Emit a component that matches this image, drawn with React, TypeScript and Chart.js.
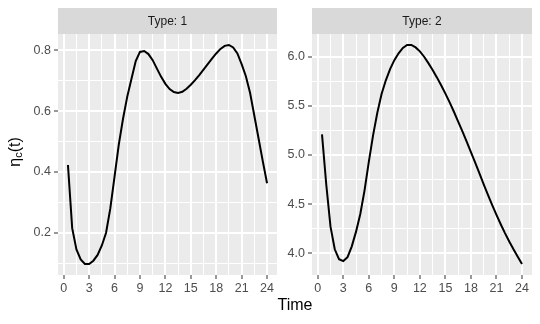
import React, { useEffect, useRef } from "react";
import { Chart, registerables } from "chart.js";
Chart.register(...registerables);

const times = [0.5, 1, 1.5, 2, 2.5, 3, 3.5, 4, 4.5, 5, 5.5, 6, 6.5, 7, 7.5, 8, 8.5, 9, 9.5, 10, 10.5, 11, 11.5, 12, 12.5, 13, 13.5, 14, 14.5, 15, 15.5, 16, 16.5, 17, 17.5, 18, 18.5, 19, 19.5, 20, 20.5, 21, 21.5, 22, 22.5, 23, 23.5, 24];
const type1Values = [0.423, 0.215, 0.145, 0.112, 0.097, 0.097, 0.108, 0.127, 0.158, 0.2, 0.28, 0.385, 0.49, 0.575, 0.648, 0.707, 0.765, 0.795, 0.798, 0.788, 0.768, 0.74, 0.713, 0.69, 0.673, 0.663, 0.66, 0.664, 0.674, 0.687, 0.702, 0.719, 0.737, 0.755, 0.773, 0.79, 0.805, 0.815, 0.818, 0.81, 0.79, 0.755, 0.715, 0.66, 0.585, 0.51, 0.435, 0.363];
const type2Values = [5.21, 4.7, 4.27, 4.04, 3.94, 3.92, 3.96, 4.07, 4.22, 4.4, 4.64, 4.93, 5.2, 5.43, 5.62, 5.76, 5.875, 5.965, 6.035, 6.09, 6.12, 6.12, 6.095, 6.055, 6.0, 5.935, 5.865, 5.79, 5.71, 5.625, 5.535, 5.44, 5.34, 5.24, 5.135, 5.03, 4.922, 4.812, 4.702, 4.594, 4.49, 4.39, 4.295, 4.205, 4.12, 4.04, 3.965, 3.89];
const panelTitles = ["Type: 1", "Type: 2"];
const xMajorTicks = [0, 3, 6, 9, 12, 15, 18, 21, 24];
const y1MajorTicks = [0.2, 0.4, 0.6, 0.8];
const y2MajorTicks = [4.0, 4.5, 5.0, 5.5, 6.0];
const xTitle = "Time";

const FONT = "'Liberation Sans', Arial, Helvetica, sans-serif";

function withMinors(majors: number[], lo: number, hi: number) {
  const step = majors[1] - majors[0];
  const ext = [majors[0] - step, ...majors, majors[majors.length - 1] + step];
  const out: number[] = [];
  for (let i = 0; i < ext.length; i++) {
    if (ext[i] >= lo && ext[i] <= hi) out.push(ext[i]);
    if (i < ext.length - 1) {
      const m = (ext[i] + ext[i + 1]) / 2;
      if (m >= lo && m <= hi) out.push(m);
    }
  }
  return out;
}

function range(vals: number[]) {
  const mn = Math.min(...vals), mx = Math.max(...vals);
  const pad = (mx - mn) * 0.05;
  return [mn - pad, mx + pad];
}

const isIn = (v: number, arr: number[]) => arr.some((a) => Math.abs(a - v) < 1e-9);

function makePanel(
  canvas: HTMLCanvasElement,
  values: number[],
  yMajors: number[],
  title: string,
  box: { left: number; right: number; top: number; bottom: number },
  drawTitles: boolean
) {
  const [xMin, xMax] = range(times);
  const [yMin, yMax] = range(values);
  const xAll = withMinors(xMajorTicks, xMin, xMax);
  const yAll = withMinors(yMajors, yMin, yMax);
  const W = 540, H = 324;

  const panelPlugin = {
    id: "panel" + title,
    beforeDraw(chart: any) {
      const { ctx, chartArea: a } = chart;
      ctx.save();
      ctx.fillStyle = "#EBEBEB";
      ctx.fillRect(a.left, a.top, a.right - a.left, a.bottom - a.top);
      ctx.fillStyle = "#D9D9D9";
      ctx.fillRect(a.left, 8, a.right - a.left, a.top - 8);
      ctx.fillStyle = "#1A1A1A";
      ctx.font = `12px ${FONT}`;
      ctx.textAlign = "center";
      ctx.textBaseline = "middle";
      ctx.fillText(title, (a.left + a.right) / 2, (8 + a.top) / 2 + 1);
      ctx.restore();
    },
    afterDraw(chart: any) {
      if (!drawTitles) return;
      const ctx = chart.ctx;
      ctx.save();
      ctx.fillStyle = "#000000";
      ctx.font = `16px ${FONT}`;
      ctx.textAlign = "center";
      ctx.textBaseline = "middle";
      ctx.fillText(xTitle, 295, 306);
      // y title: eta_c(t)
      ctx.translate(14, 152);
      ctx.rotate(-Math.PI / 2);
      ctx.textAlign = "left";
      ctx.textBaseline = "alphabetic";
      ctx.font = `16px ${FONT}`;
      const w1 = ctx.measureText("η").width;
      const w3 = ctx.measureText("(t)").width;
      ctx.font = `11px ${FONT}`;
      const w2 = ctx.measureText("c").width;
      let x = -(w1 + w2 + w3) / 2;
      ctx.font = `16px ${FONT}`;
      ctx.fillText("η", x, 6);
      x += w1;
      ctx.font = `11px ${FONT}`;
      ctx.fillText("c", x, 8);
      x += w2;
      ctx.font = `16px ${FONT}`;
      ctx.fillText("(t)", x, 6);
      ctx.restore();
    },
  };

  return new Chart(canvas, {
    type: "line",
    data: {
      datasets: [
        {
          data: times.map((t, i) => ({ x: t, y: values[i] })),
          borderColor: "#000000",
          borderWidth: 2,
          pointRadius: 0,
          fill: false,
          tension: 0,
        },
      ],
    },
    options: {
      animation: false,
      responsive: false,
      maintainAspectRatio: false,
      events: [],
      layout: { padding: { left: 0, top: box.top, right: W - box.right, bottom: 0 } },
      plugins: { legend: { display: false }, tooltip: { enabled: false } },
      scales: {
        x: {
          type: "linear",
          min: xMin,
          max: xMax,
          afterBuildTicks: (s: any) => {
            s.ticks = xAll.map((v) => ({ value: v }));
          },
          afterFit: (s: any) => {
            s.height = H - box.bottom;
          },
          ticks: {
            autoSkip: false,
            maxRotation: 0,
            padding: 2,
            color: "#4D4D4D",
            font: { family: FONT, size: 12.5 },
            callback: (v: any) => (isIn(Number(v), xMajorTicks) ? String(v) : ""),
          },
          grid: {
            color: "#FFFFFF",
            lineWidth: (c: any) => (isIn(c.tick.value, xMajorTicks) ? 2 : 1),
            tickColor: (c: any) => (isIn(c.tick.value, xMajorTicks) ? "#333333" : "rgba(0,0,0,0)"),
            tickLength: 4,
            tickWidth: 1,
          },
          border: { display: false },
        },
        y: {
          type: "linear",
          min: yMin,
          max: yMax,
          afterBuildTicks: (s: any) => {
            s.ticks = yAll.map((v) => ({ value: v }));
          },
          afterFit: (s: any) => {
            s.width = box.left;
          },
          ticks: {
            autoSkip: false,
            padding: 3,
            color: "#4D4D4D",
            font: { family: FONT, size: 12.5 },
            callback: (v: any) => (isIn(Number(v), yMajors) ? Number(v).toFixed(1) : ""),
          },
          grid: {
            color: "#FFFFFF",
            lineWidth: (c: any) => (isIn(c.tick.value, yMajors) ? 2 : 1),
            tickColor: (c: any) => (isIn(c.tick.value, yMajors) ? "#333333" : "rgba(0,0,0,0)"),
            tickLength: 4,
            tickWidth: 1,
          },
          border: { display: false },
        },
      },
    },
    plugins: [panelPlugin],
  } as any);
}

export default function App() {
  const c1 = useRef<HTMLCanvasElement>(null);
  const c2 = useRef<HTMLCanvasElement>(null);
  useEffect(() => {
    const ch1 = makePanel(c1.current!, type1Values, y1MajorTicks, panelTitles[0], { left: 58, right: 277, top: 34, bottom: 275 }, true);
    const ch2 = makePanel(c2.current!, type2Values, y2MajorTicks, panelTitles[1], { left: 312, right: 532, top: 34, bottom: 275 }, false);
    return () => {
      ch1.destroy();
      ch2.destroy();
    };
  }, []);
  const st: React.CSSProperties = { position: "absolute", left: 0, top: 0, width: 540, height: 324 };
  return (
    <div style={{ position: "fixed", left: 0, top: 0, width: 540, height: 324, background: "#FFFFFF" }}>
      <canvas ref={c1} width={540} height={324} style={st} />
      <canvas ref={c2} width={540} height={324} style={st} />
    </div>
  );
}
